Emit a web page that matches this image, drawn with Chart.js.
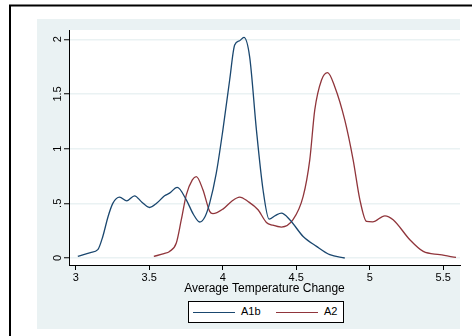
<!DOCTYPE html>
<html>
<head>
<meta charset="utf-8">
<script src="https://cdn.jsdelivr.net/npm/chart.js@4/dist/chart.umd.min.js"></script>
<style>
    html, body { margin: 0; padding: 0; background: #fff; }
    #wrap { position: relative; width: 472px; height: 336px; }
    #legend {
        position: absolute; left: 188px; top: 301px; width: 156px; height: 22px;
        box-sizing: border-box; border: 1px solid #000; background: #fff;
        font: 11px "Liberation Sans", Arial, sans-serif; color: #000;
    }
    .lg-line { position: absolute; top: 10px; height: 0; border-top: 1.3px solid; }
    .lg-text { position: absolute; top: 3px; line-height: 13px; }
</style>
</head>
<body>
<div id="wrap">
    <canvas id="chart" width="472" height="336"></canvas>
    <div id="legend"></div>
</div>
<script>
// ── DATA ──────────────────────────────────────────────────────────────────────
const seriesNames  = ['A1b', 'A2'];
const seriesColors = ['#1a476f', '#90353b'];

const a1bX = [3.014, 3.10, 3.15, 3.184, 3.22, 3.252, 3.298, 3.347, 3.40, 3.45, 3.502, 3.55, 3.604, 3.638,
              3.69, 3.752, 3.80, 3.843, 3.88, 3.911, 3.956, 4.001, 4.047, 4.081, 4.115, 4.144, 4.183,
              4.229, 4.274, 4.315, 4.36, 4.399, 4.456, 4.547, 4.638, 4.728, 4.83];
const a1bY = [0.015, 0.05, 0.076, 0.197, 0.38, 0.50, 0.557, 0.523, 0.569, 0.51, 0.462, 0.50, 0.569, 0.593,
              0.645, 0.532, 0.40, 0.329, 0.38, 0.502, 0.776, 1.172, 1.628, 1.948, 1.987, 2.018, 1.84,
              1.172, 0.624, 0.356, 0.39, 0.41, 0.35, 0.197, 0.106, 0.03, 0.0];

const a2X = [3.531, 3.60, 3.638, 3.684, 3.718, 3.752, 3.793, 3.82, 3.865, 3.911, 3.933, 4.001, 4.059,
             4.115, 4.172, 4.24, 4.297, 4.34, 4.399, 4.478, 4.547, 4.592, 4.626, 4.672, 4.713, 4.762,
             4.83, 4.887, 4.933, 4.978, 5.02, 5.103, 5.159, 5.273, 5.364, 5.477, 5.587];
const a2Y = [0.015, 0.04, 0.06, 0.137, 0.35, 0.578, 0.715, 0.745, 0.624, 0.426, 0.405, 0.447, 0.517,
             0.557, 0.517, 0.441, 0.325, 0.30, 0.283, 0.35, 0.563, 0.898, 1.354, 1.628, 1.695, 1.567,
             1.263, 0.898, 0.532, 0.334, 0.33, 0.386, 0.35, 0.167, 0.06, 0.03, 0.005];

const xTicks      = [3, 3.5, 4, 4.5, 5, 5.5];
const xTickLabels = ['3', '3.5', '4', '4.5', '5', '5.5'];
const yTicks      = [0, 0.5, 1, 1.5, 2];
const yTickLabels = ['0', '.5', '1', '1.5', '2'];
const xTitle = 'Average Temperature Change';

const FONT = '"Liberation Sans", Arial, sans-serif';
const BAND = '#eaf2f3';

function toPoints(xs, ys) { return xs.map((x, i) => ({ x: x, y: ys[i] })); }

// ── BACKGROUND (Stata-like graph region) ──────────────────────────────────────
const backdrop = {
    id: 'backdrop',
    beforeDraw(chart) {
        const c = chart.ctx, a = chart.chartArea;
        c.save();
        c.fillStyle = '#fff';
        c.fillRect(0, 0, chart.width, chart.height);
        c.fillStyle = BAND;
        c.fillRect(37, 19, 423, 310);
        c.fillStyle = '#fff';
        c.fillRect(a.left, a.top, a.right - a.left, a.bottom - a.top);
        c.strokeStyle = '#000';
        c.lineWidth = 2;
        c.beginPath();
        c.moveTo(10, chart.height);
        c.lineTo(10, 5.5);
        c.lineTo(chart.width, 5.5);
        c.stroke();
        c.restore();
    }
};

// ── CHART ─────────────────────────────────────────────────────────────────────
const chart = new Chart(document.getElementById('chart').getContext('2d'), {
    type: 'scatter',
    data: {
        datasets: [
            { label: seriesNames[0], data: toPoints(a1bX, a1bY) },
            { label: seriesNames[1], data: toPoints(a2X, a2Y) }
        ].map((d, i) => Object.assign(d, {
            showLine: true, borderColor: seriesColors[i], backgroundColor: seriesColors[i],
            borderWidth: 1.3, pointRadius: 0, cubicInterpolationMode: 'monotone'
        }))
    },
    options: {
        responsive: false, animation: false,
        layout: { padding: { left: 0, top: 30, right: 12, bottom: 40 } },
        plugins: { legend: { display: false }, tooltip: { enabled: false } },
        scales: {
            x: {
                type: 'linear', min: 2.954, max: 5.614,
                afterBuildTicks: s => { s.ticks = xTicks.map(v => ({ value: v })); },
                afterFit: s => { s.height = 31; },
                grid: { drawOnChartArea: false, drawTicks: true, tickLength: 5, tickColor: '#000', tickWidth: 1 },
                border: { color: '#000', width: 1 },
                ticks: { color: '#000', font: { family: FONT, size: 11 }, padding: 1.5, maxRotation: 0,
                         callback: (v, i) => xTickLabels[i] },
                title: { display: true, text: xTitle, color: '#000', font: { family: FONT, size: 12 },
                         padding: { top: 0, bottom: 0 } }
            },
            y: {
                type: 'linear', min: -0.064, max: 2.085,
                afterBuildTicks: s => { s.ticks = yTicks.map(v => ({ value: v })); },
                afterFit: s => { s.width = 69; },
                grid: { color: BAND, lineWidth: 1.5, drawTicks: true, tickLength: 5, tickColor: '#000', tickWidth: 1 },
                border: { color: '#000', width: 1 },
                ticks: { color: '#000', font: { family: FONT, size: 11 }, padding: -2,
                         minRotation: 90, maxRotation: 90, crossAlign: 'center',
                         callback: (v, i) => yTickLabels[i] }
            }
        }
    },
    plugins: [backdrop]
});

// ── LEGEND ────────────────────────────────────────────────────────────────────
const legendEl = document.getElementById('legend');
const legendLayout = [{ line: 4, text: 52 }, { line: 87, text: 135 }];
chart.data.datasets.forEach((ds, i) => {
    const ln = document.createElement('div');
    ln.className = 'lg-line';
    ln.style.left = legendLayout[i].line + 'px';
    ln.style.width = '42px';
    ln.style.borderTopColor = ds.borderColor;
    const tx = document.createElement('div');
    tx.className = 'lg-text';
    tx.style.left = legendLayout[i].text + 'px';
    tx.textContent = ds.label;
    legendEl.appendChild(ln);
    legendEl.appendChild(tx);
});
</script>
</body>
</html>
